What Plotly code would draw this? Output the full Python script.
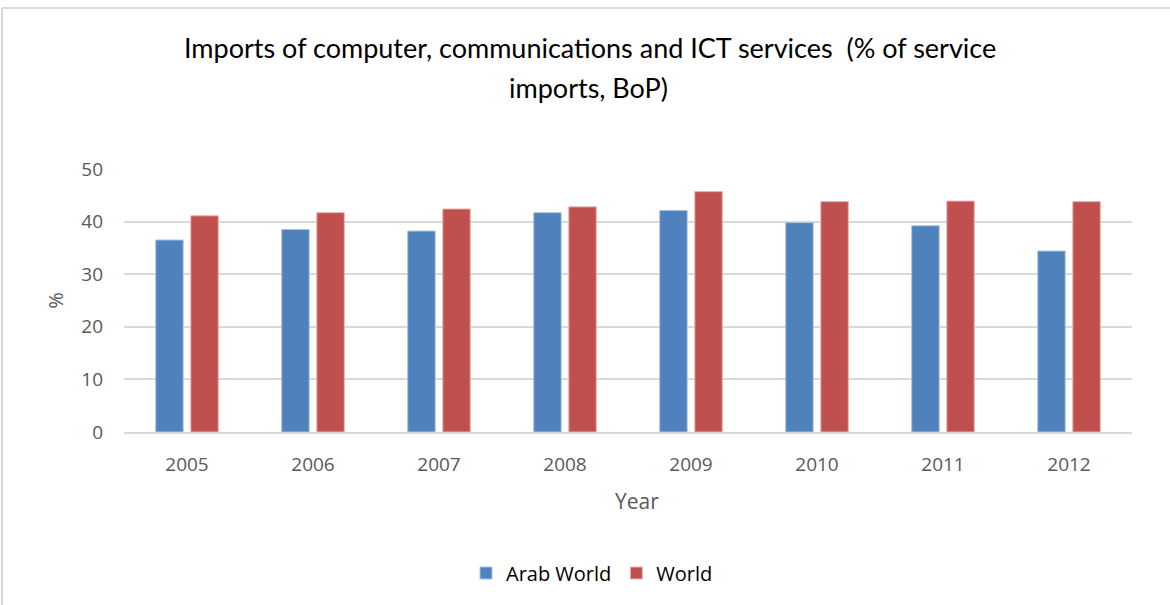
import plotly.graph_objects as go

years = ["2005", "2006", "2007", "2008", "2009", "2010", "2011", "2012"]
arab_world = [36.5, 38.5, 38.2, 41.7, 42.1, 39.8, 39.2, 34.4]
world = [41.1, 41.7, 42.4, 42.8, 45.7, 43.8, 43.9, 43.8]
y_ticks = [0, 10, 20, 30, 40, 50]

W, H = 1170, 605
L, R, T, B = 124, 38, 169, 173
PW, PH = W - L - R, H - T - B


def px_x(x):
    return (x - L) / PW


def px_y(y):
    return (H - B - y) / PH


fig = go.Figure()
fig.add_trace(go.Bar(
    name="Arab World", x=years, y=arab_world,
    marker=dict(color="#4F81BD", line=dict(color="#A9C2E3", width=1)),
))
fig.add_trace(go.Bar(
    name="World", x=years, y=world,
    marker=dict(color="#C0504D", line=dict(color="#E6B4B3", width=1)),
))

title_font = dict(family="Lato", size=27, color="#000000")
annotations = [
    dict(text="Imports of computer, communications and ICT services  (% of service",
         xref="paper", yref="paper", x=px_x(590), y=px_y(48),
         xanchor="center", yanchor="middle", showarrow=False, font=title_font),
    dict(text="imports, BoP)",
         xref="paper", yref="paper", x=px_x(588), y=px_y(88),
         xanchor="center", yanchor="middle", showarrow=False, font=title_font),
    dict(text="Year",
         xref="paper", yref="paper", x=px_x(637), y=px_y(501),
         xanchor="center", yanchor="middle", showarrow=False,
         font=dict(family="Open Sans", size=21, color="#595959")),
]

fig.update_layout(
    width=W, height=H,
    margin=dict(l=L, r=R, t=T, b=B, pad=0),
    paper_bgcolor="white", plot_bgcolor="white",
    barmode="group", bargap=0.443, bargroupgap=0.217,
    font=dict(family="Open Sans", color="#595959", size=19),
    showlegend=True,
    legend=dict(
        orientation="h", x=px_x(592), xanchor="center", y=px_y(573), yanchor="middle",
        font=dict(family="Open Sans", size=20, color="#000000"),
        traceorder="normal",
    ),
    xaxis=dict(
        showgrid=False, showline=True, linecolor="#D9D9D9", linewidth=2,
        ticks="", ticklabelstandoff=14, tickfont=dict(size=19, color="#595959"),
    ),
    yaxis=dict(
        title=dict(text="%", standoff=12, font=dict(size=20, color="#595959")),
        range=[0, 50], tickvals=y_ticks, showgrid=True, gridcolor="#D9D9D9",
        gridwidth=2, zeroline=False, ticks="", ticklabelstandoff=20,
        tickfont=dict(size=19, color="#595959"),
    ),
    annotations=annotations,
    shapes=[
        dict(type="line", xref="paper", yref="paper",
             x0=px_x(2), x1=px_x(W), y0=px_y(8), y1=px_y(8),
             line=dict(color="#D9D9D9", width=2)),
        dict(type="line", xref="paper", yref="paper",
             x0=px_x(2), x1=px_x(2), y0=px_y(H), y1=px_y(8),
             line=dict(color="#D9D9D9", width=2)),
    ],
)

fig.write_html("out.html")
